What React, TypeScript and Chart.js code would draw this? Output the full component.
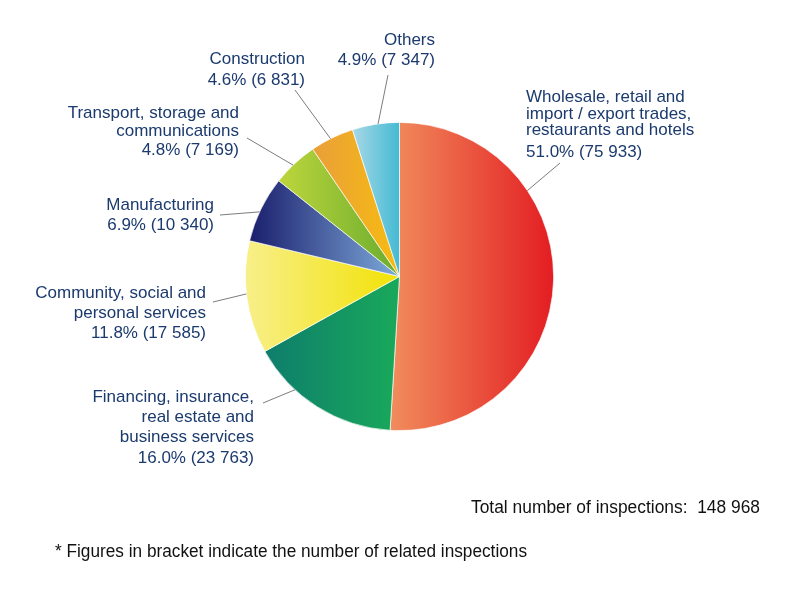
import React, { useEffect, useRef } from "react";
import { Chart, registerables } from "chart.js";

Chart.register(...registerables);

const categories = [
  "Wholesale, retail and import / export trades, restaurants and hotels",
  "Financing, insurance, real estate and business services",
  "Community, social and personal services",
  "Manufacturing",
  "Transport, storage and communications",
  "Construction",
  "Others",
];
const inspections = [75933, 23763, 17585, 10340, 7169, 6831, 7347];
const percentLabels = ["51.0%", "16.0%", "11.8%", "6.9%", "4.8%", "4.6%", "4.9%"];
const countLabels = ["75 933", "23 763", "17 585", "10 340", "7 169", "6 831", "7 347"];
const nameLines = [
  ["Wholesale, retail and", "import / export trades,", "restaurants and hotels"],
  ["Financing, insurance,", "real estate and", "business services"],
  ["Community, social and", "personal services"],
  ["Manufacturing"],
  ["Transport, storage and", "communications"],
  ["Construction"],
  ["Others"],
];
const totalText = "Total number of inspections:  148 968";
const noteText = "* Figures in bracket indicate the number of related inspections";

// style: gradient start (left) / end (right) colours per slice
const gradLeft = ["#F18D5D", "#0E7D6C", "#F8EF8A", "#1A1E6C", "#BED63C", "#E99F3A", "#A7D8E7"];
const gradRight = ["#E31D22", "#19A95A", "#F2E206", "#7EAADA", "#6AAC2E", "#F7BC10", "#44BAD2"];

type LabelLayout = {
  x: number;
  ys: number[];
  align: CanvasTextAlign;
  arcAngle: number; // degrees, canvas convention
  end: [number, number];
};
const labelLayout: LabelLayout[] = [
  { x: 126.5, ys: [-179.5, -162.5, -146.5, -124.5], align: "left", arcAngle: -33.9, end: [160.5, -113.5] },
  { x: -145.5, ys: [120.5, 140.5, 160.5, 181.5], align: "right", arcAngle: 132.7, end: [-136.5, 126.5] },
  { x: -193.5, ys: [16.5, 36.5, 56.5], align: "right", arcAngle: 173.5, end: [-186.5, 25.5] },
  { x: -185.5, ys: [-71.5, -51.5], align: "right", arcAngle: -155.2, end: [-179.5, -61.5] },
  { x: -160.5, ys: [-163.5, -145, -126.5], align: "right", arcAngle: -133.7, end: [-152.5, -138.5] },
  { x: -94.5, ys: [-217.5, -196.5], align: "right", arcAngle: -116.6, end: [-104.5, -186.5] },
  { x: 35.5, ys: [-236.5, -216.5], align: "right", arcAngle: -98, end: [-11.5, -201.5] },
];

const TEXT_COLOR = "#1B3A6E";
const FONT = '17px "Liberation Sans", Arial, sans-serif';

function sliceGradient(chart: any, index: number) {
  const area = chart.chartArea;
  if (!area) return gradRight[index];
  const cx = (area.left + area.right) / 2;
  const cy = (area.top + area.bottom) / 2;
  const r = Math.min(area.right - area.left, area.bottom - area.top) / 2;
  const total = inspections.reduce((a, b) => a + b, 0);
  let before = 0;
  for (let i = 0; i < index; i++) before += inspections[i];
  const a0 = -Math.PI / 2 + (before / total) * Math.PI * 2;
  const a1 = a0 + (inspections[index] / total) * Math.PI * 2;
  const xs = [cx, cx + r * Math.cos(a0), cx + r * Math.cos(a1)];
  for (let k = -2; k <= 4; k++) {
    const a = k * Math.PI;
    if (a > a0 && a < a1) xs.push(cx + r * Math.cos(a));
  }
  const minX = Math.min(...xs);
  const maxX = Math.max(...xs);
  const g = chart.ctx.createLinearGradient(minX, cy, maxX, cy);
  g.addColorStop(0, gradLeft[index]);
  g.addColorStop(1, gradRight[index]);
  return g;
}

const labelPlugin = {
  id: "pieLabels",
  afterDraw(chart: any) {
    const meta = chart.getDatasetMeta(0);
    const arc = meta.data[0];
    if (!arc) return;
    const cx = arc.x;
    const cy = arc.y;
    const r = arc.outerRadius;
    const ctx = chart.ctx;
    ctx.save();
    ctx.strokeStyle = "#5a5a5a";
    ctx.lineWidth = 0.8;
    labelLayout.forEach((l) => {
      const a = (l.arcAngle * Math.PI) / 180;
      ctx.beginPath();
      ctx.moveTo(cx + r * Math.cos(a), cy + r * Math.sin(a));
      ctx.lineTo(cx + l.end[0], cy + l.end[1]);
      ctx.stroke();
    });
    ctx.font = FONT;
    ctx.fillStyle = TEXT_COLOR;
    ctx.textBaseline = "middle";
    labelLayout.forEach((l, i) => {
      const lines = [...nameLines[i], `${percentLabels[i]} (${countLabels[i]})`];
      ctx.textAlign = l.align;
      lines.forEach((t, j) => {
        ctx.fillText(t, cx + l.x, cy + l.ys[j]);
      });
    });
    ctx.fillStyle = "#111111";
    ctx.font = '17.5px "Liberation Sans", Arial, sans-serif';
    ctx.textAlign = "right";
    ctx.fillText(totalText, 760, 508, 289);
    ctx.textAlign = "left";
    ctx.fillText(noteText, 55, 552, 472);
    ctx.restore();
  },
};

export default function App() {
  const ref = useRef<HTMLCanvasElement | null>(null);
  useEffect(() => {
    document.body.style.margin = "0";
    const canvas = ref.current;
    if (!canvas) return;
    const chart = new Chart(canvas, {
      type: "pie",
      data: {
        labels: categories,
        datasets: [
          {
            data: inspections,
            backgroundColor: (c: any) => sliceGradient(c.chart, c.dataIndex),
            borderColor: "rgba(255,255,255,0.85)",
            borderWidth: 0.8,
          },
        ],
      },
      options: {
        responsive: false,
        animation: false,
        layout: { padding: { left: 245, right: 246, top: 122, bottom: 168 } },
        plugins: {
          legend: { display: false },
          tooltip: { enabled: false },
          title: { display: false },
        },
      },
      plugins: [labelPlugin],
    });
    return () => chart.destroy();
  }, []);
  return (
    <div style={{ position: "absolute", left: 0, top: 0, width: 800, height: 599, background: "#fff" }}>
      <canvas ref={ref} width={800} height={599} style={{ display: "block" }} />
    </div>
  );
}
